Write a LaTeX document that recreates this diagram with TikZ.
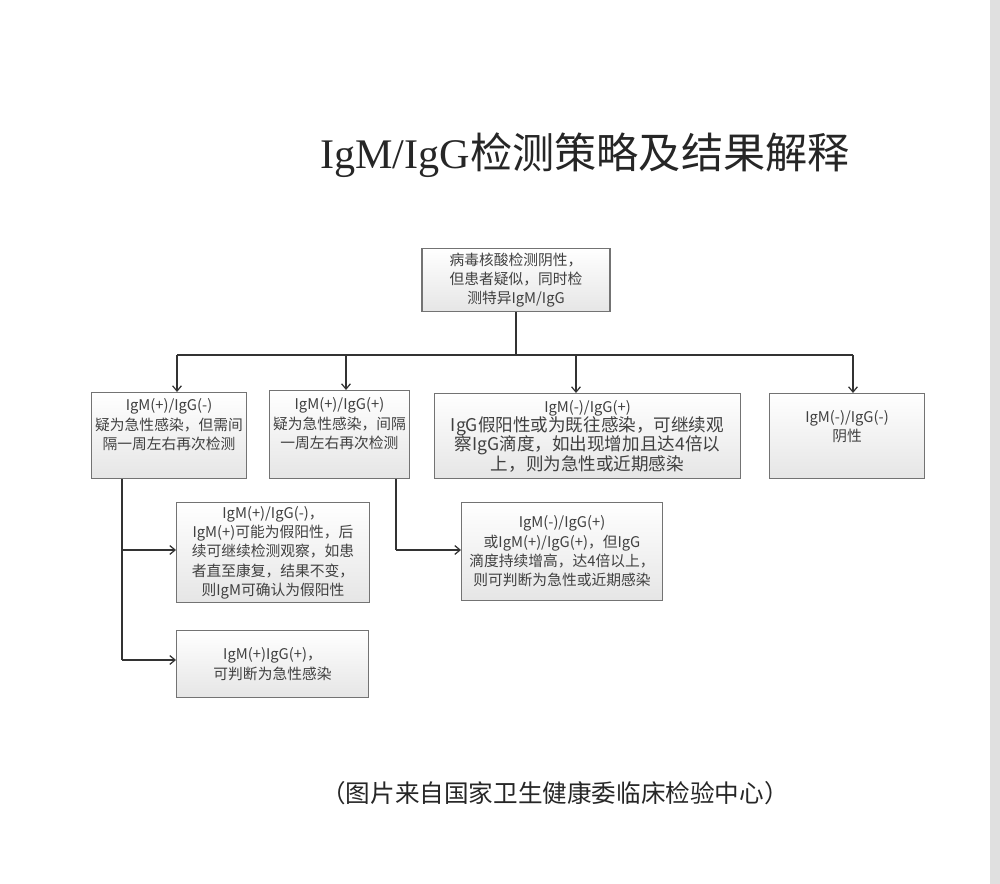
\documentclass[tikz,border=0pt]{standalone}
\usepackage{fontspec}
\setmainfont{Noto Sans CJK SC}
\newfontfamily\lat{Liberation Serif}
\usetikzlibrary{arrows.meta}
\begin{document}
\begin{tikzpicture}[x=0.02cm,y=-0.02cm,
 box/.style={draw=black!55,line width=0.6pt,top color=white,bottom color=black!10,text=black!75,align=center,font=\fontsize{8.4}{11}\selectfont,inner sep=2pt},
 ln/.style={draw=black!80,line width=0.7pt},
 arr/.style={ln,-{Straight Barb[length=3pt,width=5pt]}}]
\useasboundingbox (0,0) rectangle (1000,884);
\fill[black!12] (990,0) rectangle (1000,884);
\node[font=\fontsize{24}{27}\selectfont,text=black!85] (title) at (585,155) {{\lat IgM/IgG}检测策略及结果解释};
\node[font=\fontsize{14}{16}\selectfont,text=black!85] (cap) at (555,793) {（图片来自国家卫生健康委临床检验中心）};
\node[box,minimum width=3.76cm,minimum height=1.26cm] (top) at (516,280) {病毒核酸检测阴性，\\但患者疑似，同时检\\测特异IgM/IgG};
\node[box,minimum width=3.1cm,minimum height=1.72cm,anchor=north west,text depth=0.45cm] (b1) at (91,392) {IgM(+)/IgG(-)\\疑为急性感染，但需间\\隔一周左右再次检测};
\node[box,minimum width=2.78cm,minimum height=1.76cm,anchor=north west,text depth=0.45cm] (b2) at (269,390) {IgM(+)/IgG(+)\\疑为急性感染，间隔\\一周左右再次检测};
\node[box,minimum width=6.12cm,minimum height=1.7cm,anchor=north west] (b3) at (434,393) {IgM(-)/IgG(+)\\{\fontsize{10}{12}\selectfont IgG假阳性或为既往感染，可继续观}\\{\fontsize{10}{12}\selectfont 察IgG滴度，如出现增加且达4倍以}\\{\fontsize{10}{12}\selectfont 上，则为急性或近期感染}};
\node[box,minimum width=3.1cm,minimum height=1.7cm,anchor=north west,text depth=0.4cm] (b4) at (769,393) {IgM(-)/IgG(-)\\阴性};
\node[box,minimum width=3.86cm,minimum height=1.96cm,anchor=north west] (b5) at (176,502) {IgM(+)/IgG(-)，\\IgM(+)可能为假阳性，后\\续可继续检测观察，如患\\者直至康复，结果不变，\\则IgM可确认为假阳性};
\node[box,minimum width=4.02cm,minimum height=1.96cm,anchor=north west] (b6) at (461,502) {IgM(-)/IgG(+)\\或IgM(+)/IgG(+)，但IgG\\滴度持续增高，达4倍以上，\\则可判断为急性或近期感染};
\node[box,minimum width=3.84cm,minimum height=1.34cm,anchor=north west] (b7) at (176,630) {IgM(+)IgG(+)，\\可判断为急性感染};
\coordinate (bus) at (516,355);
\draw[ln] (top.south) -- (bus);
\draw[ln] (177,355) -- (853,355);
\draw[arr] (177,355) -- (b1.north -| 177,0);
\draw[arr] (346,355) -- (b2.north -| 346,0);
\draw[arr] (576,355) -- (b3.north -| 576,0);
\draw[arr] (853,355) -- (b4.north -| 853,0);
\draw[ln] (b1.south -| 122,0) -- (122,660);
\draw[arr] (122,550) -- (b5.west |- 0,550);
\draw[arr] (122,660) -- (b7.west |- 0,660);
\draw[ln] (b2.south -| 396,0) -- (396,550);
\draw[arr] (396,550) -- (b6.west |- 0,550);
\end{tikzpicture}
\end{document}
